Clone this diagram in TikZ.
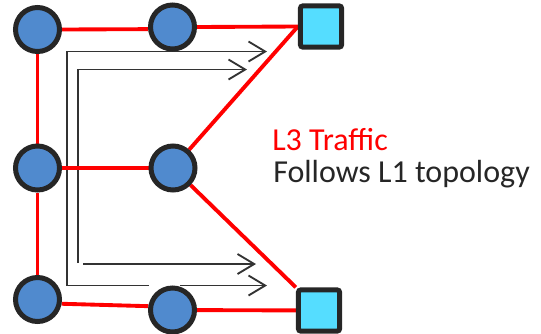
\documentclass[tikz,border=0pt]{standalone}
\usepackage{fontspec}
\setmainfont{Carlito}
\usetikzlibrary{arrows.meta}
\pgfdeclarelayer{flowlayer}
\pgfdeclarelayer{linklayer}
\pgfsetlayers{flowlayer,linklayer,main}
\definecolor{hostblue}{HTML}{508ACE}
\definecolor{switchcyan}{HTML}{55DDFF}
\definecolor{rim}{HTML}{262626}
\definecolor{flowgray}{HTML}{333333}
\definecolor{textgray}{HTML}{262626}
\tikzset{
  host/.style={circle, draw=rim, fill=hostblue, line width=3.75pt,
    minimum size=33pt, inner sep=0pt},
  switchbox/.style={rectangle, draw=rim, fill=switchcyan, line width=3.75pt,
    minimum size=31pt, inner sep=0pt, rounded corners=2pt},
  link/.style={draw=red, line width=2.9pt},
  flow/.style={draw=flowgray, line width=1.4pt},
  flowarrow/.style={flow, -{Straight Barb[length=12.5pt, width=15pt, line width=1.4pt]}},
  caption/.style={anchor=base west, inner sep=0pt,
    font=\fontsize{24}{28}\selectfont}
}
\begin{document}
\begin{tikzpicture}[x=0.75pt, y=-0.75pt]
\useasboundingbox (0,0) rectangle (541,333);

% hosts and switches
\node[host] (tl) at (37.5,29.5) {};
\node[host] (tm) at (172.5,27) {};
\node[host] (ml) at (37.5,168) {};
\node[host] (mm) at (173,168) {};
\node[host] (bl) at (37.5,299.5) {};
\node[host] (bm) at (172.5,310) {};
\node[switchbox] (ts) at (321,26.5) {};
\node[switchbox] (bs) at (319,310.5) {};

% physical links
\begin{pgfonlayer}{linklayer}
\draw[link] (tl.east) -- (tm.185);
\draw[link] (tm.east) -- (ts.west);
\draw[link] (tl) -- (ml);
\draw[link] (ml) -- (bl);
\draw[link] (ml) -- (mm);
\draw[link] (ts.west) -- (mm);
\draw[link] (mm) -- (bs.north west);
\draw[link] (bl.-10) -- (bm.171);
\draw[link] (bm) -- (bs);
\end{pgfonlayer}

% traffic paths
\coordinate (o1) at (267,51.5);
\coordinate (o2) at (67,51.5);
\coordinate (o3) at (67,285.5);
\coordinate (o4) at (149,285.5);
\coordinate (o5) at (180,285.5);
\coordinate (o6) at (267,285.5);
\coordinate (i1) at (247,69.5);
\coordinate (i2) at (78,69.5);
\coordinate (i3) at (78,263);
\coordinate (i4) at (83,264);
\coordinate (i5) at (256,264);
\begin{pgfonlayer}{flowlayer}
\draw[flowarrow] (o3) -- (o2) -- (o1);
\draw[flow] (o3) -- (o4);
\draw[flowarrow] (o5) -- (o6);
\draw[flowarrow] (i3) -- (i2) -- (i1);
\draw[flowarrow] (i4) -- (i5);
\end{pgfonlayer}

% caption
\node[caption, text=red] (l3) at (272,150) {L3 Traffic};
\node[caption, text=textgray] (l1) at (273,182) {Follows L1 topology};
\end{tikzpicture}
\end{document}
